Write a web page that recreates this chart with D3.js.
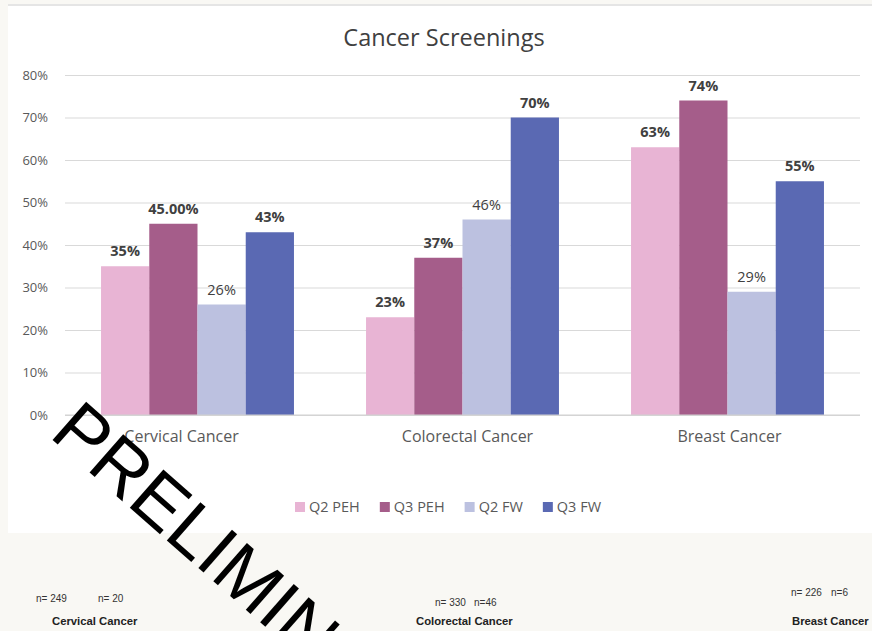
<!DOCTYPE html>
<html>
<head>
<meta charset="utf-8">
<script src="https://cdn.jsdelivr.net/npm/d3@7"></script>
<style>
  html, body { margin: 0; padding: 0; background: #f9f8f4; }
  svg { display: block; }
</style>
</head>
<body>
<script>
const categories = ["Cervical Cancer", "Colorectal Cancer", "Breast Cancer"];
const series = ["Q2 PEH", "Q3 PEH", "Q2 FW", "Q3 FW"];
const colors = ["#e8b4d4", "#a55d8a", "#bcc1e0", "#5a69b3"];

const q2PEH = [0.35, 0.23, 0.63];
const q3PEH = [0.45, 0.37, 0.74];
const q2FW  = [0.26, 0.46, 0.29];
const q3FW  = [0.43, 0.70, 0.55];
const values = [q2PEH, q3PEH, q2FW, q3FW];

// the chart shows one label with two decimals, the rest whole percents
const labelFormats = [
  [".0%", ".0%", ".0%"],
  [".2%", ".0%", ".0%"],
  [".0%", ".0%", ".0%"],
  [".0%", ".0%", ".0%"]
];
const boldLabels = [true, true, false, true];

const yTicks = [0, 0.1, 0.2, 0.3, 0.4, 0.5, 0.6, 0.7, 0.8];

const footCategories = ["Cervical Cancer", "Colorectal Cancer", "Breast Cancer"];
const footCounts = [["n= 249", "n= 20"], ["n= 330", "n=46"], ["n= 226", "n=6"]];

const W = 872, H = 631;
const L = 65, R = 860, T = 75, B = 415;

const svg = d3.select("body").append("svg")
  .attr("width", W)
  .attr("height", H);

// white chart panel
svg.append("rect")
  .attr("x", 8).attr("y", 4)
  .attr("width", W - 8).attr("height", 529)
  .attr("fill", "#ffffff");
svg.append("line")
  .attr("x1", 8).attr("x2", W)
  .attr("y1", 5).attr("y2", 5)
  .attr("stroke", "#dcdcdc")
  .attr("stroke-width", 1.5);

const x0 = d3.scaleBand()
  .domain(categories)
  .range([L, R])
  .paddingInner(0.272)
  .paddingOuter(0.136);

const x1 = d3.scaleBand()
  .domain(series)
  .range([0, x0.bandwidth()]);

const y = d3.scaleLinear()
  .domain([0, 0.8])
  .range([B, T]);

const color = d3.scaleOrdinal().domain(series).range(colors);

// title
svg.append("text")
  .attr("x", 444).attr("y", 46)
  .attr("text-anchor", "middle")
  .attr("font-family", "Open Sans")
  .attr("font-size", 23.5)
  .attr("fill", "#404040")
  .text("Cancer Screenings");

// y axis + gridlines
const yAxis = d3.axisLeft(y)
  .tickValues(yTicks)
  .tickFormat(d3.format(".0%"))
  .tickSizeInner(-(R - L))
  .tickSizeOuter(0)
  .tickPadding(17);

const gy = svg.append("g")
  .attr("transform", `translate(${L},0)`)
  .call(yAxis);
gy.select(".domain").remove();
gy.selectAll(".tick line").attr("stroke", "#d9d9d9");
gy.selectAll(".tick text")
  .attr("font-family", "Open Sans")
  .attr("font-size", 13)
  .attr("fill", "#595959");

// bars
const groups = svg.append("g")
  .selectAll("g")
  .data(series)
  .join("g")
    .attr("fill", d => color(d));

groups.selectAll("rect")
  .data((s, si) => categories.map((c, ci) => ({ s, si, c, ci, v: values[si][ci] })))
  .join("rect")
    .attr("x", d => x0(d.c) + x1(d.s))
    .attr("y", d => y(d.v))
    .attr("width", x1.bandwidth())
    .attr("height", d => y(0) - y(d.v));

// data labels
groups.selectAll("text")
  .data((s, si) => categories.map((c, ci) => ({ s, si, c, ci, v: values[si][ci] })))
  .join("text")
    .attr("x", d => x0(d.c) + x1(d.s) + x1.bandwidth() / 2)
    .attr("y", d => y(d.v) - 10)
    .attr("text-anchor", "middle")
    .attr("font-family", "Open Sans")
    .attr("font-size", 14.5)
    .attr("font-weight", d => boldLabels[d.si] ? "bold" : "normal")
    .attr("fill", "#404040")
    .text(d => d3.format(labelFormats[d.si][d.ci])(d.v));

// baseline
svg.append("line")
  .attr("x1", L).attr("x2", R)
  .attr("y1", y(0)).attr("y2", y(0))
  .attr("stroke", "#d0d0d0");

// category axis (labels sit a little off-centre in the original)
const labelShift = [-16, 5, 2];
const xAxis = d3.axisBottom(x0).tickSize(0).tickPadding(16);
const gx = svg.append("g")
  .attr("transform", `translate(0,${B})`)
  .call(xAxis);
gx.select(".domain").remove();
gx.selectAll(".tick text")
  .attr("dx", (d, i) => labelShift[i])
  .attr("font-family", "Open Sans")
  .attr("font-size", 16)
  .attr("fill", "#595959");

// legend
const legend = svg.append("g").attr("transform", "translate(295,502)");
let lx = 0;
series.forEach((s, i) => {
  const item = legend.append("g").attr("transform", `translate(${lx},0)`);
  item.append("rect")
    .attr("width", 10).attr("height", 10)
    .attr("fill", color(s));
  const t = item.append("text")
    .attr("x", 14).attr("y", 10)
    .attr("font-family", "Open Sans")
    .attr("font-size", 14.5)
    .attr("fill", "#595959")
    .text(s);
  lx += 14 + t.node().getComputedTextLength() + 20;
});

// footnote counts under the chart
const footX = [52, 416, 792];
const countPos = [
  [[36, 602], [98, 602]],
  [[435, 606], [474, 606]],
  [[791, 596], [831, 596]]
];
footCategories.forEach((c, i) => {
  svg.append("text")
    .attr("x", footX[i]).attr("y", 625)
    .attr("font-family", "Liberation Sans, Arial, sans-serif")
    .attr("font-size", 11.3)
    .attr("font-weight", "bold")
    .attr("fill", "#222")
    .text(c);
  footCounts[i].forEach((n, j) => {
    svg.append("text")
      .attr("x", countPos[i][j][0]).attr("y", countPos[i][j][1])
      .attr("font-family", "Liberation Sans, Arial, sans-serif")
      .attr("font-size", 10)
      .attr("fill", "#333")
      .text(n);
  });
});

// watermark
svg.append("text")
  .attr("transform", "translate(48,436) rotate(41.3)")
  .attr("font-family", "Liberation Sans, Arial, sans-serif")
  .attr("font-size", 74)
  .attr("fill", "#000")
  .text("PRELIMINARY");
</script>
</body>
</html>
